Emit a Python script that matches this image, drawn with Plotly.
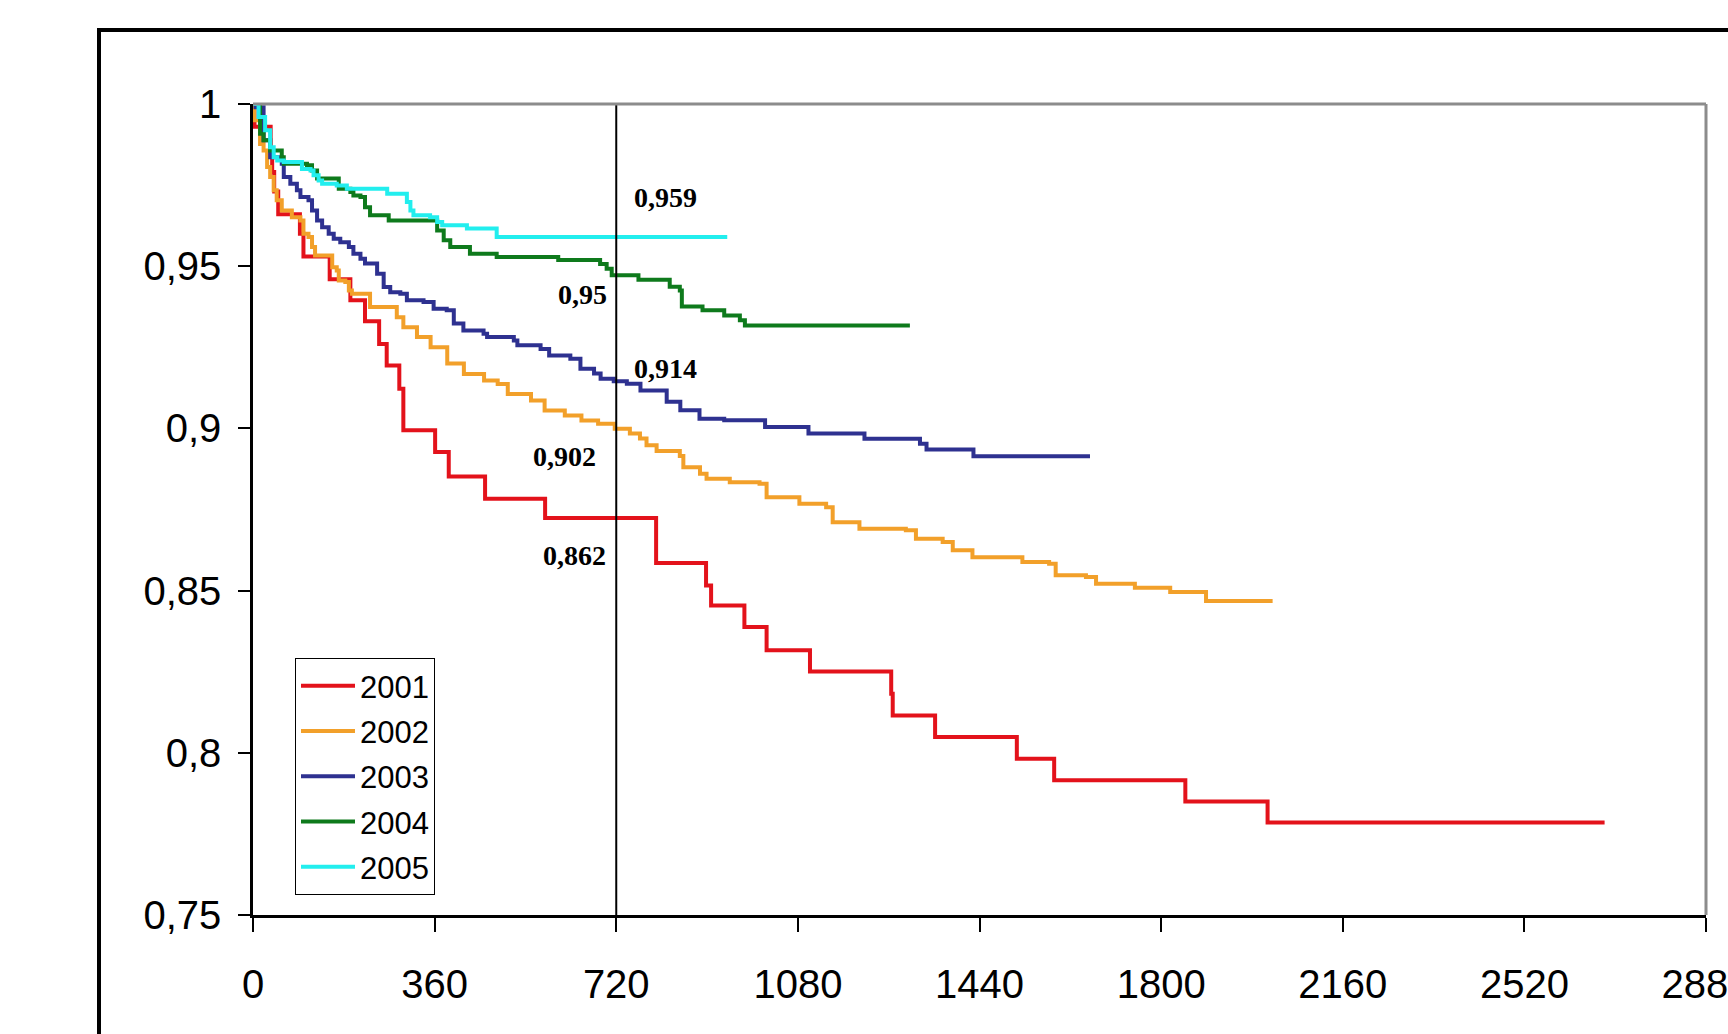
import plotly.graph_objects as go

# ---------------- data ----------------
years = ["2001", "2002", "2003", "2004", "2005"]

t_2001 = [0, 3, 35, 38, 42, 50, 93, 100, 152, 193, 222, 250, 265, 290, 298, 361, 388, 460, 579,
          799, 898, 908, 974, 1018, 1104, 1265, 1268, 1352, 1514, 1588, 1848, 2011, 2679]
s_2001 = [1.0, 0.993, 0.986, 0.979, 0.973, 0.966, 0.960, 0.953, 0.946, 0.9395, 0.933, 0.926, 0.9194,
          0.9122, 0.8994, 0.8927, 0.8852, 0.8783, 0.8724, 0.8585, 0.8516, 0.8454, 0.8388, 0.8316,
          0.8251, 0.8182, 0.8115, 0.8049, 0.7982, 0.7915, 0.785, 0.7785, 0.7785]

t_2002 = [0, 2, 14, 21, 28, 34, 41, 47, 57, 77, 94, 100, 110, 117, 123, 157, 166, 170, 183, 190, 196,
          232, 285, 298, 325, 352, 385, 418, 458, 485, 505, 551, 578, 618, 651, 684, 717, 747, 767,
          780, 800, 846, 853, 886, 899, 945, 1004, 1018, 1083, 1136, 1149, 1202, 1294, 1314, 1367,
          1387, 1426, 1525, 1578, 1591, 1651, 1671, 1748, 1818, 1889, 2021]
s_2002 = [1.0, 0.995, 0.9877, 0.9857, 0.9806, 0.9775, 0.9734, 0.9703, 0.9672, 0.9651, 0.9641, 0.960,
          0.959, 0.9559, 0.9533, 0.9497, 0.9487, 0.9456, 0.9451, 0.9425, 0.9415, 0.9374, 0.9343,
          0.9312, 0.9282, 0.925, 0.920, 0.9168, 0.9148, 0.9137, 0.9106, 0.9086, 0.9055, 0.904,
          0.9024, 0.9014, 0.8999, 0.8984, 0.8969, 0.8948, 0.893, 0.8915, 0.888, 0.886, 0.8845,
          0.8834, 0.8829, 0.8788, 0.8768, 0.8757, 0.8711, 0.8691, 0.8686, 0.866, 0.865, 0.8624,
          0.8603, 0.8588, 0.8583, 0.8547, 0.8542, 0.8521, 0.8509, 0.8496, 0.8468, 0.8468]

t_2003 = [0, 5, 21, 34, 57, 61, 74, 87, 94, 110, 117, 127, 137, 150, 160, 173, 190, 199, 213, 222,
          246, 259, 272, 292, 305, 338, 358, 384, 398, 417, 457, 464, 517, 524, 570, 587, 629, 649,
          676, 689, 715, 741, 768, 820, 847, 885, 934, 1015, 1101, 1212, 1322, 1335, 1428, 1659]
s_2003 = [1.0, 0.999, 0.9888, 0.9836, 0.9816, 0.9775, 0.9754, 0.9734, 0.9713, 0.9703, 0.9672,
          0.9641, 0.962, 0.960, 0.9585, 0.9574, 0.9559, 0.9538, 0.9523, 0.9508, 0.9477, 0.9436,
          0.942, 0.9415, 0.9395, 0.939, 0.9369, 0.9364, 0.9323, 0.9302, 0.9292, 0.9282, 0.9271,
          0.9256, 0.9245, 0.9225, 0.9215, 0.9184, 0.9169, 0.9153, 0.9145, 0.9138, 0.9117, 0.9082,
          0.9056, 0.903, 0.9025, 0.9004, 0.8984, 0.8968, 0.8953, 0.8935, 0.8914, 0.8914]

t_2004 = [0, 14, 21, 34, 57, 61, 107, 117, 127, 170, 193, 199, 213, 222, 232, 269, 365, 378, 391,
          430, 483, 605, 688, 701, 711, 764, 826, 846, 850, 891, 934, 965, 975, 1302]
s_2004 = [1.0, 0.9908, 0.9888, 0.9857, 0.9836, 0.9816, 0.9811, 0.9795, 0.977, 0.9739, 0.9729,
          0.9718, 0.9713, 0.9682, 0.9657, 0.9641, 0.961, 0.958, 0.9559, 0.9538, 0.9528, 0.9519,
          0.9507, 0.9492, 0.9472, 0.9458, 0.9437, 0.9425, 0.9376, 0.9364, 0.9348, 0.9333, 0.9317,
          0.9317]

t_2005 = [0, 11, 24, 34, 41, 48, 61, 97, 114, 120, 130, 137, 166, 186, 266, 305, 312, 318, 351,
          365, 375, 424, 483, 940]
s_2005 = [1.0, 0.996, 0.9919, 0.9867, 0.9836, 0.9826, 0.9821, 0.980, 0.9795, 0.978, 0.9764,
          0.9754, 0.9749, 0.9739, 0.9723, 0.9698, 0.9672, 0.9657, 0.9651, 0.9636, 0.9626, 0.9616,
          0.959, 0.959]

x_tick_values = [0, 360, 720, 1080, 1440, 1800, 2160, 2520, 2880]
x_tick_labels = ["0", "360", "720", "1080", "1440", "1800", "2160", "2520", "2880"]
y_tick_values = [0.75, 0.8, 0.85, 0.9, 0.95, 1.0]
y_tick_labels = ["0,75", "0,8", "0,85", "0,9", "0,95", "1"]

ref_day = 720
ref_labels = ["0,959", "0,95", "0,914", "0,902", "0,862"]

# ---------------- styling ----------------
times = [t_2001, t_2002, t_2003, t_2004, t_2005]
survs = [s_2001, s_2002, s_2003, s_2004, s_2005]
colors = ["#E3121B", "#F2A02A", "#2E3190", "#0E7A1C", "#22EEEE"]

# annotation placement (y in data units, side of the reference line, pixel shift)
label_y = [0.9712, 0.9413, 0.9186, 0.8914, 0.8609]
label_anchor = ["left", "right", "left", "right", "right"]
label_shift = [16, -7, 16, -18, -8]

W, H = 1728, 1034
ML, MR, MT, MB = 253, 22, 104, 119
PW, PH = W - ML - MR, H - MT - MB

fig = go.Figure()
for i, yr in enumerate(years):
    fig.add_trace(go.Scatter(
        x=times[i], y=survs[i], mode="lines", name=yr,
        line=dict(color=colors[i], width=4, shape="hv"),
        legendgroup=yr, hoverinfo="x+y+name",
    ))

# reference vertical line at 720 days
fig.add_shape(type="line", xref="x", yref="y", x0=ref_day, x1=ref_day,
              y0=y_tick_values[0], y1=y_tick_values[-1],
              line=dict(color="black", width=2), layer="above")

for i, txt in enumerate(ref_labels):
    fig.add_annotation(x=ref_day, y=label_y[i], xref="x", yref="y", text="<b>" + txt + "</b>",
                       showarrow=False, xanchor=label_anchor[i], yanchor="middle",
                       xshift=label_shift[i],
                       font=dict(family="Liberation Serif, Times New Roman, serif", size=28,
                                 color="black"))

# gray top/right border of plot area
fig.add_shape(type="line", xref="paper", yref="paper", x0=0, x1=1, y0=1, y1=1,
              line=dict(color="#8c8c8c", width=3), layer="above")
fig.add_shape(type="line", xref="paper", yref="paper", x0=1, x1=1, y0=0, y1=1,
              line=dict(color="#8c8c8c", width=3), layer="above")

# outer black frame (cropped by the picture edges on right and bottom)
fx0 = (99 - ML) / PW
fy1 = (H - MB - 30) / PH
fig.add_shape(type="rect", xref="paper", yref="paper", x0=fx0, x1=1.05, y0=-0.3, y1=fy1,
              line=dict(color="black", width=4), fillcolor="rgba(0,0,0,0)", layer="above")

axis_font = dict(family="Liberation Sans, Arial, sans-serif", size=40, color="black")
fig.update_layout(
    width=W, height=H,
    margin=dict(l=ML, r=MR, t=MT, b=MB, pad=0, autoexpand=False),
    paper_bgcolor="white", plot_bgcolor="white",
    showlegend=True,
    legend=dict(
        x=(295 - ML) / PW, y=(H - MB - 658) / PH, xanchor="left", yanchor="top",
        bgcolor="white", bordercolor="black", borderwidth=1,
        font=dict(family="Liberation Sans, Arial, sans-serif", size=31, color="black"),
        tracegroupgap=2, traceorder="grouped", itemwidth=54,
    ),
    xaxis=dict(
        range=[0, 2880], tickmode="array", tickvals=x_tick_values, ticktext=x_tick_labels,
        showgrid=False, zeroline=False, showline=True, linecolor="black", linewidth=3,
        ticks="outside", ticklen=14, tickwidth=2, tickcolor="black", tickfont=axis_font,
        ticklabelstandoff=18, ticklabeloverflow="allow", automargin=False, fixedrange=True,
    ),
    yaxis=dict(
        range=[0.75, 1.0], tickmode="array", tickvals=y_tick_values, ticktext=y_tick_labels,
        showgrid=False, zeroline=False, showline=True, linecolor="black", linewidth=2.5,
        ticks="outside", ticklen=12, tickwidth=2, tickcolor="black", tickfont=axis_font,
        ticklabelstandoff=9, automargin=False, fixedrange=True,
    ),
)

for t, s in zip(times, survs):
    assert len(t) == len(s)

fig.write_html("out.html", config={"displayModeBar": False},
               post_script="document.body.style.margin='0';")
